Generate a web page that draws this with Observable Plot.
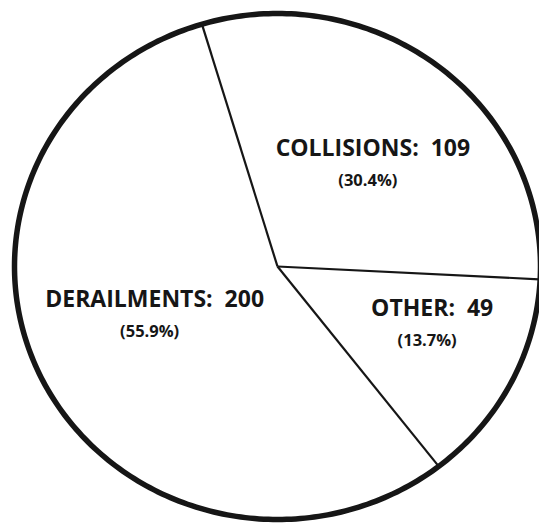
<!DOCTYPE html>
<html>
<head>
<meta charset="utf-8">
<script src="https://cdn.jsdelivr.net/npm/d3@7"></script>
<script src="https://cdn.jsdelivr.net/npm/@observablehq/plot@0.6"></script>
<style>
  html, body { margin: 0; padding: 0; background: #fff; }
  #chart svg { display: block; }
</style>
</head>
<body>
<div id="chart"></div>
<script>
// ---- data ----
const categories = ["COLLISIONS", "OTHER", "DERAILMENTS"];
const counts = [109, 49, 200];
const percentLabels = ["(30.4%)", "(13.7%)", "(55.9%)"];

// ---- layout (not data) ----
const startDeg = -16.7;              // first boundary, clockwise from north
const labelAngleOffset = [3.7, -6.5, 5.2];
const labelRadius = [0.544, 0.63, 0.504];

const rad = Math.PI / 180;
const pie = d3.pie().sort(null).value(d => d.count)
  .startAngle(startDeg * rad).endAngle((startDeg + 360) * rad);
const rows = categories.map((c, i) => ({category: c, count: counts[i], pct: percentLabels[i], i}));
const arcs = pie(rows);

const boundaries = arcs.map(a => ({x1: 0, y1: 0, x2: Math.sin(a.startAngle), y2: Math.cos(a.startAngle)}));
const labels = arcs.map(a => {
  const i = a.data.i;
  const mid = (a.startAngle + a.endAngle) / 2 + labelAngleOffset[i] * rad;
  return {x: labelRadius[i] * Math.sin(mid), y: labelRadius[i] * Math.cos(mid),
          main: `${a.data.category}:\u00a0\u00a0${a.data.count}`, sub: a.data.pct};
});
const outline = d3.range(0, 361, 1).map(t => ({x: Math.sin(t * rad), y: Math.cos(t * rad)}));

const ink = "#161616";
const chart = Plot.plot({
  width: 539,
  height: 523,
  margin: 0,
  x: {domain: [-1, 1], range: [14, 540], axis: null},
  y: {domain: [-1, 1], range: [519, 13], axis: null},
  style: {background: "#fff"},
  marks: [
    Plot.link(boundaries, {x1: "x1", y1: "y1", x2: "x2", y2: "y2", stroke: ink, strokeWidth: 2.2}),
    Plot.line(outline, {x: "x", y: "y", stroke: ink, strokeWidth: 5.5}),
    Plot.text(labels, {x: "x", y: "y", text: "main", dy: -15, fill: ink,
      fontSize: 23, fontWeight: 700, fontFamily: "Open Sans", textAnchor: "middle"}),
    Plot.text(labels, {x: "x", y: "y", text: "sub", dy: 17, dx: -5, fill: ink,
      fontSize: 16.5, fontWeight: 700, fontFamily: "Open Sans", textAnchor: "middle"})
  ]
});
document.getElementById("chart").append(chart);
</script>
</body>
</html>
